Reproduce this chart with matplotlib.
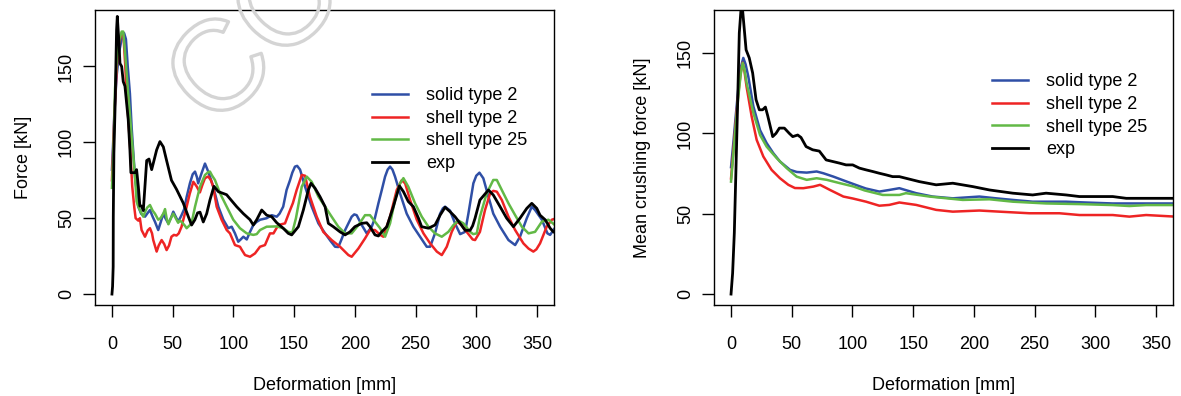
import numpy as np
import matplotlib
matplotlib.use("Agg")
from matplotlib import pyplot as plt
import matplotlib.patheffects as pe

#-----------------------Data-----------------------#

# Force vs deformation
exp_x = [0, 0.5, 1.0, 1.1, 1.6, 2.5, 2.8, 3.8, 4.4, 5.8, 6.6, 8, 9.3, 10.7, 13.4, 14.8, 15.6, 17.6, 19, 20.3,
         21.7, 23, 24.4, 25.8, 27, 28.6, 30.5, 32.7, 34.6, 36.8, 39.5, 42.3, 45, 49, 53.2, 58.7, 62.9, 65.6, 68.3, 70.5,
         72.5, 75.2, 78, 80.7, 84, 87.6, 94.4, 97, 102.7, 108.2, 113.7, 116.4, 119.2, 123.3, 127.4, 131.5, 135.7, 141, 145.2, 148,
         153.5, 157.6, 161.7, 163.9, 167.2, 171.3, 175.5, 178.2, 182.3, 187.8, 192, 196, 200, 205.7, 209.8, 212.5, 216.6, 219.4, 222.1, 226.3,
         231.7, 236.7, 240, 244, 248.2, 252.4, 255, 260.6, 266, 270.2, 274.3, 278.4, 282.5, 286.7, 290.8, 294.9, 297, 299, 303, 310,
         314, 319.6, 325, 330.6, 336, 341.6, 345.7, 349.8, 352.5, 356.7, 360.8, 363.5, 366]
exp_y = [0, 5, 18, 51, 93, 121, 132, 174, 183, 165, 152, 150, 140, 137, 115, 95, 80, 80, 80, 82,
         71, 58, 58, 55, 69, 88, 89, 82, 88, 95, 100.5, 97, 88, 75, 69, 60, 51, 45.5, 49, 53.5,
         54, 47.5, 53, 62, 71, 67.5, 65.5, 63, 57.6, 53, 49, 45.5, 49, 55.4, 52, 51, 47, 43.4, 40, 39,
         44.4, 55.4, 68.6, 73, 69.8, 64.2, 57.6, 46.6, 44.4, 41, 39, 41, 44.4, 46.6, 47, 44.4, 39, 38.3, 41, 44.4,
         57.6, 71.3, 67.5, 61, 57.6, 50, 44.4, 43.4, 45.5, 52, 57.2, 54.3, 51, 46.6, 42, 42, 45, 50, 62, 68.6,
         65.3, 57.6, 50, 44.4, 50, 56.5, 59.8, 56.5, 52, 49, 43.4, 41, 40]

solid_x = [0, 1, 2, 4, 6, 8, 10, 11.5, 13, 14.8, 16.2, 17.6, 19, 20.3, 21.7, 24, 27.2, 29, 31.3, 33.5,
           35.4, 38.1, 40, 42.3, 44, 46.4, 48.5, 50.5, 52.5, 54.6, 57.3, 59.5, 61.5, 64.2, 66.5, 68.4, 70, 71, 73.5, 76.6,
           79.3, 83.4, 87.6, 91.7, 95.8, 98.6, 101.3, 104, 106, 108.2, 111, 113.7, 116.4, 119, 122, 127.4, 131.5, 135.7, 138, 141,
           143.8, 146.6, 148.5, 150.7, 152.5, 154.9, 159, 164.5, 170, 175.5, 180, 183.7, 186.4, 189, 192, 197.4, 199.5, 201.5, 205.7, 209.8,
           213.9, 216.5, 219.4, 222, 224.9, 227, 229, 231, 233.1, 237.2, 242.7, 248.2, 253.7, 259.2, 262, 266, 270.2, 272.5, 274.3, 278.4,
           282.5, 286.7, 290.8, 293.5, 297.6, 300, 302.6, 305.8, 310, 314, 319.6, 326.5, 332, 336, 341.6, 345.7, 348.4, 354, 358.6, 360.8,
           364.6, 367]
solid_y = [82, 100, 120, 145, 160, 168, 172, 168, 150, 132, 110, 93, 77, 68.6, 57.6, 53, 51, 53, 55.4, 51,
           47.7, 42.2, 47, 53, 50, 46.6, 50, 54.3, 51, 47.7, 52, 56, 64, 73, 79, 80.7, 77, 73, 79, 86,
           80.7, 70.8, 57.6, 49, 43.4, 44.4, 40, 34.5, 36, 37.8, 36, 41, 45.5, 47.5, 49, 50, 52, 51, 53, 57.6,
           68.6, 75, 80, 84, 84.5, 82, 70.8, 57.6, 46.6, 40, 35, 31.2, 31, 36, 42.2, 51, 52.5, 52, 45.5, 40,
           44.4, 50, 59.8, 68, 77.4, 82, 84, 82, 77.4, 66.4, 53, 44.4, 37.8, 31.2, 31.2, 40, 53, 56.5, 57.6, 55,
           46.6, 39.5, 41, 53, 73, 78, 80, 76.3, 64.2, 53, 44.4, 35.6, 32.3, 37.8, 50, 57.6, 55.4, 49, 40, 39,
           43.4, 45]

shell2_x = [0, 1, 2, 4, 6, 8, 9.5, 11, 12, 13.5, 14.8, 16.7, 18.4, 19.5, 21.7, 23, 24.4, 27.2, 29.5, 31.3,
            33, 34, 36.8, 38.5, 40.9, 43, 45, 47, 49, 51, 53.2, 55, 57.3, 61.5, 64, 67, 69.7, 72.4, 74.5, 76.6,
            79.3, 81.5, 83.4, 86.2, 90.3, 94.5, 97.2, 101.3, 105.4, 107, 109.6, 113.7, 117.8, 121.9, 126, 130.1, 133, 137, 142.5, 146,
            149, 152.1, 156.3, 159, 163, 168.6, 174, 180.9, 187.8, 194.7, 197.4, 202.9, 208.4, 212.5, 216.6, 220.8, 223.5, 226, 229, 234.5,
            238.6, 241.4, 245.5, 251, 256.5, 262, 267.5, 271.6, 275.7, 279.8, 283.9, 288, 292.1, 297, 299, 303, 307.2, 311.4, 314, 316.9,
            321, 326.5, 332, 338.8, 343, 347, 349.5, 352.5, 358, 362.2, 366]
shell2_y = [75, 95, 118, 150, 166, 172, 170, 150, 132, 115, 99, 71, 57, 50, 48.4, 50, 42.2, 37.8, 42, 43.4,
            40, 35.6, 28, 32, 35.6, 33, 29, 32, 37.8, 39, 38.6, 40, 44.4, 57.6, 66, 74, 71, 67, 72, 76.4,
            77.5, 75, 70.8, 57.6, 49, 42.2, 40, 32.3, 31.2, 29, 25.7, 24.6, 26.8, 31.2, 32.3, 40, 40, 45.5, 46.6, 54,
            60, 68.6, 78.5, 78, 64.2, 51, 41, 35.6, 31.2, 25.7, 24.6, 30, 36.7, 42.2, 42.2, 39, 37.8, 44, 51, 68.6,
            75, 73, 62, 49, 40, 33.4, 28, 25.7, 31.2, 41, 47.7, 45.5, 41, 36, 35.6, 41, 55.4, 66.4, 68, 67.5,
            62, 51, 42.2, 33.4, 30, 28, 29.5, 33.4, 44.4, 49, 50]

shell25_x = [0, 1, 2, 2.5, 4, 6, 8, 9.3, 10.7, 13.4, 16.2, 19, 20.3, 21.5, 23, 25.8, 27.2, 29, 31.3, 33.5,
             35.4, 38.1, 40, 42.3, 43.7, 45, 46.5, 48.5, 50.5, 52.5, 54.5, 56, 58, 60.1, 61.5, 64.2, 65.6, 68.4, 72.5, 76.6,
             79.5, 80.7, 82.5, 84.8, 89, 94.5, 99.9, 105.4, 111, 116.4, 119.2, 121.9, 127.4, 135.7, 141, 145.2, 148.5, 151.5, 156.3, 160.4,
             164.5, 170, 175.5, 180.9, 186.4, 192, 197.4, 203, 208.4, 212.5, 216.6, 220.8, 224.9, 229, 233.1, 237.2, 240, 244, 249.6, 255.1,
             260.6, 266, 271.6, 277, 281.2, 285.3, 289.4, 294.9, 297.5, 300.4, 303, 308.6, 314, 316.9, 321, 326.5, 332, 337.5, 343, 348.4,
             354, 359.4, 364.7, 367]
shell25_y = [70, 90, 115, 135, 155, 167, 173, 173, 160, 132, 104, 77, 61, 58, 55.4, 51, 54, 57, 58.7, 55,
             53, 49, 50, 53, 56, 50, 46, 50, 53, 50, 47, 48.5, 47, 45, 43.4, 45.5, 47, 57.6, 70.8, 78.5,
             80.5, 80.7, 78, 75.2, 66.4, 57.6, 49, 43.4, 40, 39, 39.5, 42.2, 44.4, 44.6, 43.4, 41, 40.5, 50, 70.8, 77.4,
             74, 64.2, 57.6, 51, 44.4, 40, 40, 45.5, 52, 52, 47.7, 43.4, 37.8, 46.6, 62, 73, 76.4, 70.8, 59.8, 51,
             44.4, 40, 37.8, 41, 45.5, 48.4, 46.6, 41, 39.5, 40, 51, 66.4, 75.2, 75.2, 68.6, 59.8, 52, 44.4, 40, 41,
             47.7, 49, 45.5, 44]

# Mean crushing force vs deformation
m_exp_x = [0, 1.3, 2.7, 4.1, 5.5, 6.8, 8.2, 9.6, 12.4, 15, 17.8, 20.6, 23.3, 26, 28.3, 30.2, 34.3, 37, 39.8, 43.9,
           48, 50.8, 54.9, 57.6, 61.8, 67.2, 72.7, 78.3, 83.8, 89.3, 94.7, 100.2, 105.7, 111.2, 116.6, 122.1, 127.6, 133.1, 138.6, 155,
           168.9, 182.6, 199, 212.8, 232, 248.4, 259.4, 275.9, 286.9, 314.3, 325.4, 341.8, 366]
m_exp_y = [0, 13, 38, 79, 121, 162.5, 177, 176, 152, 147, 137.6, 121, 114.7, 114.7, 116.4, 111, 98, 100, 103.3, 103.3,
           100, 98, 99, 97.5, 91.8, 89.8, 89, 83.5, 82.5, 81.5, 80.4, 80.4, 78.4, 77.3, 76.3, 75.2, 74.2, 73.1, 73.1, 70,
           68, 69, 66.9, 64.8, 62.8, 61.7, 62.8, 61.7, 60.7, 60.7, 59.6, 59.6, 59.6]

m_solid_x = [0, 2, 4, 6, 8, 10.1, 12, 14.2, 18.4, 23.9, 29.3, 34.8, 40.3, 48.6, 54.1, 62.3, 70.5, 76, 84.3, 95.3,
             106.2, 111.1, 122.1, 130.3, 138.6, 152.4, 166, 182.6, 204.5, 218.3, 232, 248.4, 275.9, 292, 314.3, 366]
m_solid_y = [79, 95, 112, 128, 141, 147, 143, 135.5, 116.8, 102, 94, 87.7, 82.5, 77.3, 76, 75.6, 76.3, 75.2, 73.1, 70,
             67, 65.7, 63.8, 64.8, 65.9, 62.8, 60.7, 59.6, 60.7, 59.6, 58.6, 57.5, 57.5, 57, 56.4, 56.4]

m_shell2_x = [0, 2, 4, 6, 8, 9.6, 11, 12.8, 17, 21.1, 26.6, 33.4, 40.3, 47.2, 52.6, 59.5, 67.8, 73.3, 81.5, 92.5,
              100.2, 111.2, 122.1, 130.3, 138.6, 152.4, 168.9, 182.6, 204.5, 221, 245.7, 270.4, 286.9, 314.3, 328, 341.8, 366]
m_shell2_y = [72, 90, 108, 125, 138, 144, 139, 129, 110.5, 96, 85.6, 77.3, 72.1, 68, 66, 65.9, 66.9, 68, 64.8, 60.7,
              59.5, 57.5, 55, 55.5, 57, 55.5, 52.4, 51.3, 52, 51.3, 50.3, 50.3, 49.2, 49.2, 48.2, 49.2, 48.2]

m_shell25_x = [0, 2, 4, 6, 8, 9.6, 11, 12.8, 18.4, 23.9, 29.3, 37.6, 45.8, 54, 62.3, 70.5, 78.8, 89.8, 100.7, 110,
               124.9, 138.6, 144, 163.3, 190.8, 212.8, 232, 259.4, 286.9, 314.3, 328, 341.8, 366]
m_shell25_y = [70, 88, 106, 123, 137, 143.8, 140, 131.4, 112.7, 99, 91.8, 84.6, 78.4, 73.1, 71.1, 72.1, 71.1, 69, 67, 64.5,
               61.7, 61.7, 62.8, 60.7, 58.6, 59, 57.5, 56.4, 56, 55.4, 54.8, 55.4, 55.4]

labels = ["solid type 2", "shell type 2", "shell type 25", "exp"]
colors = ["#2f4fa6", "#ee2424", "#62b946", "black"]

#---------------------------Plotting---------------------------#

plt.rcParams['font.family'] = ['Liberation Sans', 'DejaVu Sans']
plt.rcParams['font.size'] = 13

fig = plt.figure(figsize=(11.81, 3.96), dpi=100)
ax1 = fig.add_axes([0.0804, 0.2298, 0.3887, 0.7449])
ax2 = fig.add_axes([0.6046, 0.2298, 0.3887, 0.7449])


def style_axes(ax, ylim):
    ax.set_xlim(-14, 364)
    ax.set_ylim(ylim)
    ax.set_xticks(np.arange(0, 351, 50))
    ax.set_yticks([0, 50, 100, 150])
    for s in ax.spines.values():
        s.set_linewidth(1.0)
    ax.tick_params(direction='out', length=8.4, width=1.0, labelsize=13)
    ax.tick_params(axis='x', pad=14)
    ax.tick_params(axis='y', pad=6, labelrotation=90)
    for lab in ax.get_yticklabels():
        lab.set_va('center')
    ax.set_xlabel('Deformation [mm]', fontsize=13, labelpad=17)


lw = 1.8
ax1.plot(solid_x, solid_y, color=colors[0], lw=lw, label=labels[0])
ax1.plot(shell2_x, shell2_y, color=colors[1], lw=lw, label=labels[1])
ax1.plot(shell25_x, shell25_y, color=colors[2], lw=lw, label=labels[2])
ax1.plot(exp_x, exp_y, color=colors[3], lw=lw + 0.2, label=labels[3])
style_axes(ax1, (-7.2, 187.2))
ax1.set_ylabel('Force [kN]', fontsize=13, labelpad=19)
ax1.legend(loc='upper left', bbox_to_anchor=(0.603, 0.738), frameon=False, borderpad=0,
           borderaxespad=0, handlelength=2.0, handletextpad=1.0, labelspacing=0.31, fontsize=13)

ax2.plot(m_solid_x, m_solid_y, color=colors[0], lw=lw, label=labels[0])
ax2.plot(m_shell2_x, m_shell2_y, color=colors[1], lw=lw, label=labels[1])
ax2.plot(m_shell25_x, m_shell25_y, color=colors[2], lw=lw, label=labels[2])
ax2.plot(m_exp_x, m_exp_y, color=colors[3], lw=lw + 0.2, label=labels[3])
style_axes(ax2, (-6.8, 176.8))
ax2.set_ylabel('Mean crushing force [kN]', fontsize=13, labelpad=19)
ax2.legend(loc='upper left', bbox_to_anchor=(0.606, 0.785), frameon=False, borderpad=0,
           borderaxespad=0, handlelength=2.0, handletextpad=1.0, labelspacing=0.31, fontsize=13)

# watermark (cut off at the top edge, as in the original)
fig.text(0.182, 0.670, 'CO', rotation=45, rotation_mode='anchor', ha='left', va='baseline',
         fontsize=92, color='none', family='Liberation Sans',
         path_effects=[pe.withStroke(linewidth=2.4, foreground='#d4d4d4')])

fig.savefig('out.png', dpi=100)
